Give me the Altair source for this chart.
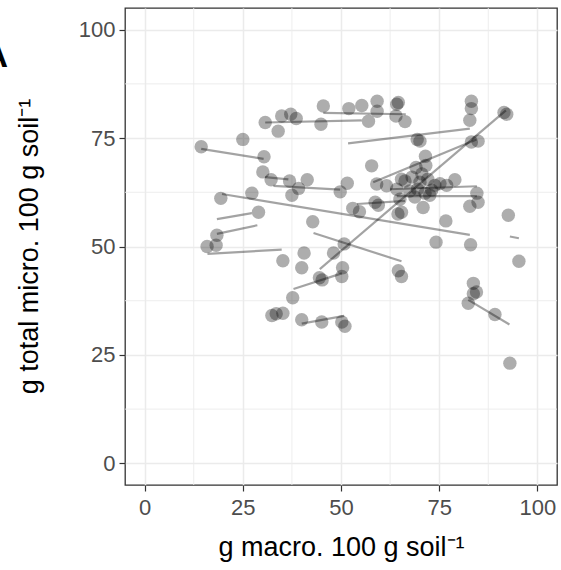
import altair as alt
import pandas as pd

# points (macro, micro)
pt_x = [30.7, 34.0, 25.0, 14.4, 30.4, 30.1, 32.2, 27.3, 19.4, 29.0, 18.4, 15.9, 18.2,
        45.5, 52.0, 55.3, 59.2, 64.2, 64.6, 59.2, 57.0, 64.0, 66.3, 34.9, 37.2, 38.6, 44.9,
        57.8, 36.9, 39.2, 41.4, 37.5, 49.8, 51.6, 59.1, 61.6, 58.7, 59.5, 53.0, 54.7,
        64.2, 65.4, 65.0, 65.4, 64.5, 42.8, 50.8, 40.6, 48.1, 35.2, 40.0, 44.5, 45.2,
        50.4, 50.2, 37.7, 40.0, 45.1, 50.2, 51.0, 32.4, 33.5, 35.2, 64.6, 65.4,
        83.2, 83.2, 82.8, 91.5, 92.2, 69.4, 70.1, 83.2, 84.9, 71.5, 69.1, 71.6,
        66.3, 68.1, 70.1, 72.1, 73.9, 67.5, 69.5, 71.4, 73.1, 68.8, 70.6, 72.6,
        79.0, 76.9, 75.2, 84.6, 84.9, 82.8, 70.9, 76.7, 92.6, 74.2, 83.0, 95.3,
        83.7, 83.7, 84.5, 82.4, 89.2, 93.0]
pt_y = [78.6, 76.6, 74.7, 73.0, 70.7, 67.2, 65.4, 62.3, 61.1, 57.9, 52.6, 50.0, 50.3,
        82.4, 81.8, 82.5, 83.5, 82.8, 83.2, 81.2, 78.9, 80.1, 78.8, 80.1, 80.5, 79.5, 78.2,
        68.6, 65.1, 63.4, 65.4, 61.8, 62.6, 64.6, 64.4, 64.0, 60.2, 59.5, 58.8, 58.0,
        63.2, 65.5, 60.9, 57.9, 57.5, 55.7, 50.6, 48.5, 48.5, 46.7, 45.1, 42.8, 42.3,
        45.1, 43.1, 38.2, 33.1, 32.6, 32.6, 31.6, 34.1, 34.5, 34.6, 44.4, 43.1,
        83.5, 81.8, 79.1, 80.9, 80.5, 74.7, 74.3, 74.1, 74.3, 70.8, 68.2, 68.7,
        65.1, 66.0, 64.8, 65.5, 64.1, 62.8, 63.2, 62.3, 63.0, 61.4, 66.7, 61.8,
        65.4, 64.1, 64.5, 62.3, 60.2, 59.3, 59.0, 55.9, 57.2, 51.0, 50.4, 46.6,
        41.5, 39.1, 39.5, 36.9, 34.3, 23.1]

# segments
seg_x1 = [14.4, 30.7, 45.5, 51.8, 58.2, 44.6, 19.7, 18.4, 18.4, 16.0, 32.8, 30.7,
          43.0, 62.5, 64.2, 54.1, 37.9, 40.0, 82.4, 93.0]
seg_y1 = [72.5, 78.6, 80.8, 73.8, 64.8, 44.8, 62.1, 56.3, 52.9, 48.3, 64.0, 66.0,
          53.1, 63.2, 61.6, 59.8, 40.2, 32.2, 37.7, 52.3]
seg_x2 = [30.3, 55.3, 66.5, 82.8, 84.5, 92.0, 82.8, 27.3, 28.7, 34.9, 49.8, 36.6,
          65.4, 84.6, 84.6, 66.3, 50.2, 50.8, 92.9, 95.3]
seg_y2 = [70.2, 79.1, 80.5, 77.2, 74.7, 81.4, 52.7, 57.7, 54.9, 49.3, 63.1, 65.5,
          46.6, 63.9, 61.6, 60.5, 43.8, 34.0, 32.0, 51.9]

major_breaks = [0, 25, 50, 75, 100]
minor_breaks = [12.5, 37.5, 62.5, 87.5]
x_title = "g macro. 100 g soil⁻¹"
y_title = "g total micro. 100 g soil⁻¹"
tag = ["A"]

pts = pd.DataFrame({"x": pt_x, "y": pt_y})
segs = pd.DataFrame({"x1": seg_x1, "y1": seg_y1, "x2": seg_x2, "y2": seg_y2})
minor = pd.DataFrame({"v": minor_breaks})
tagdf = pd.DataFrame({"t": tag})

xs = alt.Scale(domain=[-5, 105], nice=False, zero=False)
ys = alt.Scale(domain=[-5, 105], nice=False, zero=False)

FONT = "Liberation Sans"

x_axis = alt.Axis(values=major_breaks, title=x_title,
                  titleX=216, titleY=70, titleBaseline="alphabetic",
                  labelPadding=6)
y_axis = alt.Axis(values=major_breaks, title=y_title,
                  titleX=-96, titleY=238, titleAngle=-90,
                  titleBaseline="middle", titleAlign="center",
                  labelPadding=4)

points = alt.Chart(pts).mark_circle(color="black", opacity=0.32, size=180).encode(
    x=alt.X("x:Q", scale=xs, axis=x_axis),
    y=alt.Y("y:Q", scale=ys, axis=y_axis))

minor_x = alt.Chart(minor).mark_rule(color="#ebebeb", strokeWidth=0.9).encode(
    x=alt.X("v:Q", scale=xs, axis=x_axis))
minor_y = alt.Chart(minor).mark_rule(color="#ebebeb", strokeWidth=0.9).encode(
    y=alt.Y("v:Q", scale=ys, axis=y_axis))

lines = alt.Chart(segs).mark_rule(color="black", opacity=0.36, strokeWidth=2.2).encode(
    x=alt.X("x1:Q", scale=xs, axis=x_axis),
    y=alt.Y("y1:Q", scale=ys, axis=y_axis),
    x2="x2:Q", y2="y2:Q")

tagt = alt.Chart(tagdf).mark_text(font=FONT, fontSize=34, fontWeight="bold",
                                  align="right", baseline="alphabetic", color="black").encode(
    text="t:N", x=alt.value(-117), y=alt.value(59))

chart = alt.layer(minor_x, minor_y, lines, points, tagt).properties(
    width=432, height=477,
    padding={"left": 125, "top": 8, "right": 4, "bottom": 85},
    autosize=alt.AutoSizeParams(type="none"),
    background="white",
).configure_view(stroke="#333333", strokeWidth=1.3).configure_axis(
    grid=True, gridColor="#ebebeb", gridWidth=1.5, domain=False,
    tickColor="#333333", tickWidth=1.2, tickSize=6,
    labelColor="#4d4d4d", labelFontSize=22, labelFont=FONT,
    titleFont=FONT, titleFontSize=27, titleFontWeight="normal", titleColor="black")

chart.save("out.html", embed_options={"renderer": "svg", "actions": False})
